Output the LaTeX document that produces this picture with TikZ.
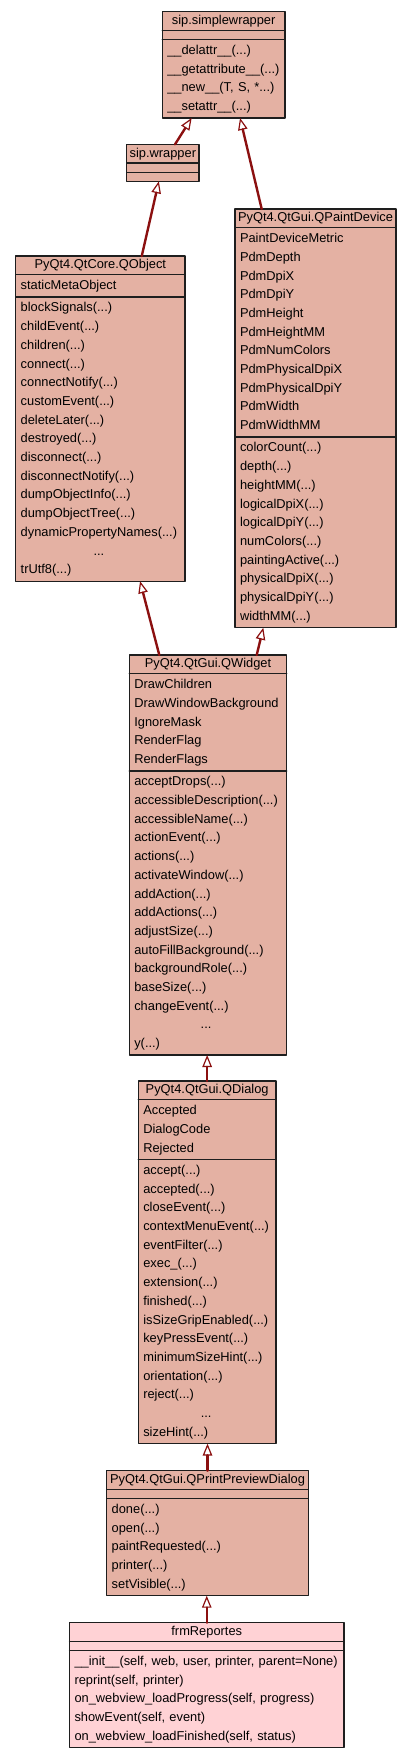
\documentclass[tikz,border=0pt]{standalone}
\usepackage{fontspec}
\setmainfont{Liberation Sans}
\usetikzlibrary{shapes.multipart,arrows.meta}

\definecolor{classfill}{RGB}{228,177,163}
\definecolor{ownfill}{RGB}{255,210,213}
\definecolor{classline}{RGB}{30,30,30}
\definecolor{inheritred}{RGB}{139,16,16}

\newcommand{\members}[1]{\begin{tabular}{@{}l@{}}#1\end{tabular}}
\newcommand{\classname}[1]{\hbox to \hsize{\hss\rule[-4.2pt]{0pt}{15.2pt}#1\hss}}
\newcommand{\nomembers}{\rule{0pt}{5.5pt}}
\newcommand{\skipped}{\multicolumn{1}{@{}c@{}}{...}}

\begin{document}
\begin{tikzpicture}
    [x=1pt, y=-1pt,
    line cap=round,
    line join=round,
    umlclass/.style={rectangle split, rectangle split parts=3,
        draw=classline, line width=1.3pt, fill=classfill,
        anchor=north west, inner xsep=5pt, inner ysep=1.15pt,
        outer sep=0pt, align=left,
        font=\fontsize{12.85}{18.7}\selectfont},
    inherit/.style={draw=inheritred, line width=2.4pt,
        -{Triangle[open, length=12pt, width=9.5pt, line width=1.2pt]}}]

    \useasboundingbox (0,0) rectangle (411,1755);

    \node[umlclass, text width=112.7pt] (simplewrapper) at (162.3,11.7)
        {\classname{sip.simplewrapper}
         \nodepart{two}\nomembers
         \nodepart{three}\members{\_\_delattr\_\_(...)\\ \_\_getattribute\_\_(...)\\
            \_\_new\_\_(T, S, *...)\\ \_\_setattr\_\_(...)}};

    \node[umlclass, text width=62.3pt] (wrapper) at (126.7,144.3)
        {\classname{sip.wrapper}
         \nodepart{two}\nomembers
         \nodepart{three}\nomembers};

    \node[umlclass, text width=159.3pt] (qobject) at (15.7,256)
        {\classname{PyQt4.QtCore.QObject}
         \nodepart{two}\members{staticMetaObject}
         \nodepart{three}\members{blockSignals(...)\\ childEvent(...)\\ children(...)\\
            connect(...)\\ connectNotify(...)\\ customEvent(...)\\ deleteLater(...)\\
            destroyed(...)\\ disconnect(...)\\ disconnectNotify(...)\\
            dumpObjectInfo(...)\\ dumpObjectTree(...)\\ dynamicPropertyNames(...)\\
            \skipped\\ trUtf8(...)}};

    \node[umlclass, text width=151pt] (qpaintdevice) at (235,209)
        {\classname{PyQt4.QtGui.QPaintDevice}
         \nodepart{two}\members{PaintDeviceMetric\\ PdmDepth\\ PdmDpiX\\ PdmDpiY\\
            PdmHeight\\ PdmHeightMM\\ PdmNumColors\\ PdmPhysicalDpiX\\
            PdmPhysicalDpiY\\ PdmWidth\\ PdmWidthMM}
         \nodepart{three}\members{colorCount(...)\\ depth(...)\\ heightMM(...)\\
            logicalDpiX(...)\\ logicalDpiY(...)\\ numColors(...)\\ paintingActive(...)\\
            physicalDpiX(...)\\ physicalDpiY(...)\\ widthMM(...)}};

    \node[umlclass, text width=147.4pt] (qwidget) at (129.3,655)
        {\classname{PyQt4.QtGui.QWidget}
         \nodepart{two}\members{DrawChildren\\ DrawWindowBackground\\ IgnoreMask\\
            RenderFlag\\ RenderFlags}
         \nodepart{three}\members{acceptDrops(...)\\ accessibleDescription(...)\\
            accessibleName(...)\\ actionEvent(...)\\ actions(...)\\ activateWindow(...)\\
            addAction(...)\\ addActions(...)\\ adjustSize(...)\\
            autoFillBackground(...)\\ backgroundRole(...)\\ baseSize(...)\\
            changeEvent(...)\\ \skipped\\ y(...)}};

    \node[umlclass, text width=127.7pt] (qdialog) at (138.3,1081)
        {\classname{PyQt4.QtGui.QDialog}
         \nodepart{two}\members{Accepted\\ DialogCode\\ Rejected}
         \nodepart{three}\members{accept(...)\\ accepted(...)\\ closeEvent(...)\\
            contextMenuEvent(...)\\ eventFilter(...)\\ exec\_(...)\\ extension(...)\\
            finished(...)\\ isSizeGripEnabled(...)\\ keyPressEvent(...)\\
            minimumSizeHint(...)\\ orientation(...)\\ reject(...)\\ \skipped\\
            sizeHint(...)}};

    \node[umlclass, text width=191.6pt] (qpreview) at (106.7,1470.7)
        {\classname{PyQt4.QtGui.QPrintPreviewDialog}
         \nodepart{two}\nomembers
         \nodepart{three}\members{done(...)\\ open(...)\\ paintRequested(...)\\
            printer(...)\\ setVisible(...)}};

    \node[umlclass, fill=ownfill, text width=264.5pt] (reportes) at (69.5,1622.7)
        {\classname{frmReportes}
         \nodepart{two}\nomembers
         \nodepart{three}\members{\_\_init\_\_(self, web, user, printer, parent=None)\\
            reprint(self, printer)\\ on\_webview\_loadProgress(self, progress)\\
            showEvent(self, event)\\ on\_webview\_loadFinished(self, status)}};

    % Vererbung
    \draw[inherit] ([xshift=12.2pt]wrapper.north) -- ([xshift=-32pt]simplewrapper.south);
    \draw[inherit] ([xshift=-53.8pt]qpaintdevice.north) -- ([xshift=16.4pt]simplewrapper.south);
    \draw[inherit] ([xshift=41.4pt]qobject.north) -- ([xshift=-4pt]wrapper.south);
    \draw[inherit] ([xshift=-48.7pt]qwidget.north) -- ([xshift=39.7pt]qobject.south);
    \draw[inherit] ([xshift=48.7pt]qwidget.north) -- ([xshift=-52.2pt]qpaintdevice.south);
    \draw[inherit] (qdialog.north) -- (qdialog.north |- qwidget.south);
    \draw[inherit] (qpreview.north) -- (qpreview.north |- qdialog.south);
    \draw[inherit] (reportes.north) -- (reportes.north |- qpreview.south);
\end{tikzpicture}
\end{document}
